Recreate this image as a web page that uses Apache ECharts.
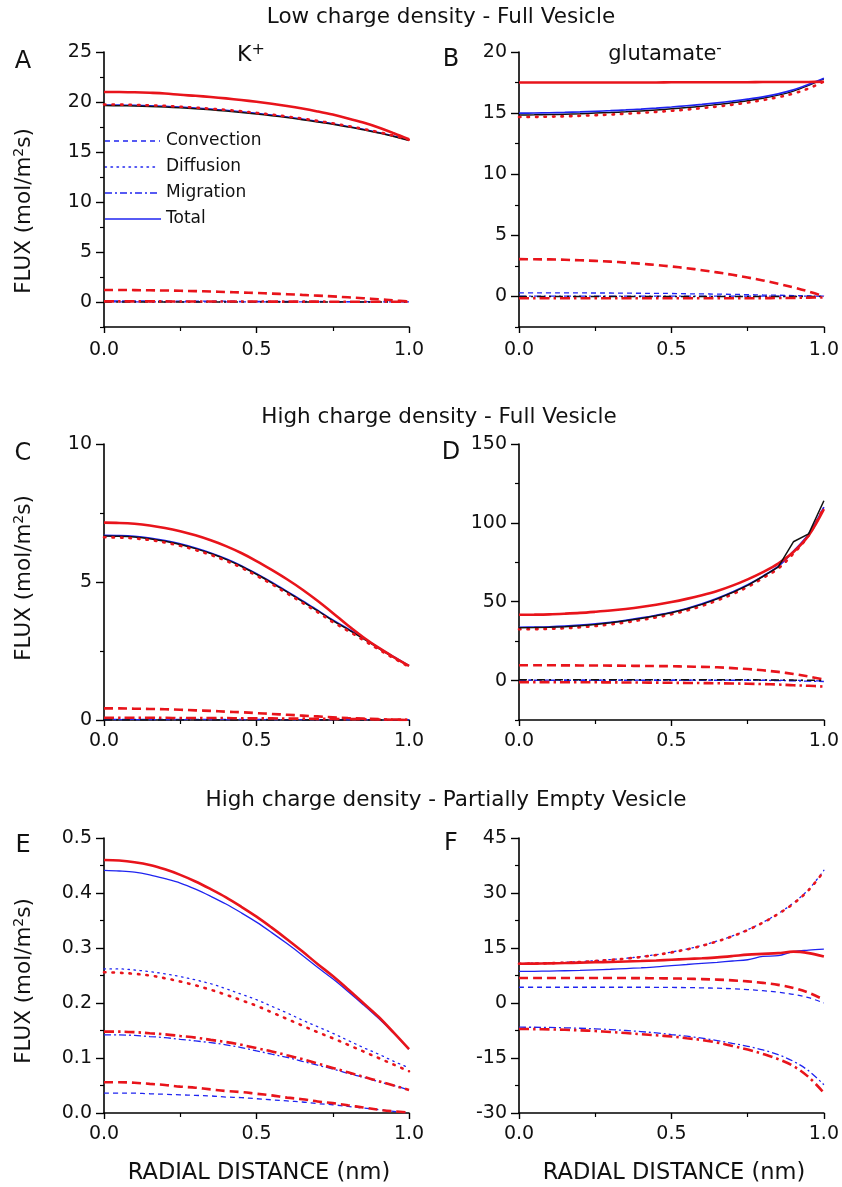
<!DOCTYPE html>
<html>
<head>
<meta charset="utf-8">
<script src="https://cdn.jsdelivr.net/npm/echarts@6/dist/echarts.min.js"></script>
<style>html,body{margin:0;padding:0;background:#fff}#c{width:842px;height:1187px}</style>
</head>
<body>
<div id="c"></div>
<script>
// ---- x positions (radial distance, nm)
const radial = [0,0.05,0.1,0.15,0.2,0.25,0.3,0.35,0.4,0.45,0.5,0.55,0.6,0.65,0.7,0.75,0.8,0.85,0.9,0.95,1.0];

// ---- Panel A: K+, low charge density, full vesicle
const A_rTot  = [21.0,21.0,20.97,20.92,20.85,20.72,20.62,20.5,20.36,20.2,20.02,19.82,19.6,19.35,19.06,18.74,18.36,17.94,17.45,16.88,16.27];
const A_rConv = [1.2,1.2,1.19,1.17,1.15,1.12,1.09,1.05,1.0,0.95,0.9,0.84,0.78,0.71,0.64,0.56,0.47,0.38,0.28,0.16,0.05];
const A_rDiff = [19.75,19.74,19.71,19.67,19.61,19.53,19.44,19.33,19.21,19.07,18.91,18.74,18.55,18.34,18.11,17.87,17.6,17.31,16.99,16.63,16.23];
const A_rMig  = [0.06,0.06,0.06,0.06,0.06,0.05,0.05,0.05,0.05,0.05,0.05,0.04,0.04,0.04,0.04,0.03,0.03,0.03,0.02,0.02,0.02];
const A_bTot  = [19.72,19.71,19.68,19.64,19.58,19.5,19.41,19.3,19.18,19.04,18.88,18.71,18.52,18.31,18.08,17.84,17.57,17.28,16.96,16.6,16.2];
const A_bConv = [0.1,0.1,0.1,0.1,0.09,0.09,0.09,0.08,0.08,0.07,0.07,0.06,0.06,0.05,0.05,0.04,0.03,0.03,0.02,0.01,0.0];
const A_bMig  = [0.02,0.02,0.02,0.02,0.02,0.02,0.02,0.02,0.02,0.02,0.02,0.02,0.02,0.02,0.02,0.02,0.02,0.01,0.01,0.01,0.01];
const A_kTot  = [19.64,19.63,19.6,19.56,19.5,19.42,19.33,19.22,19.1,18.96,18.8,18.63,18.44,18.23,18.0,17.77,17.51,17.23,16.91,16.56,16.15];
const A_kMig  = [0.0,0.0,0.0,0.0,0.0,0.0,0.0,0.0,0.0,0.0,0.0,0.0,0.0,0.0,0.0,0.0,0.0,0.0,0.0,0.0,0.0];

// ---- Panel B: glutamate-, low charge density, full vesicle
const B_rTot  = [17.5,17.5,17.5,17.5,17.5,17.5,17.5,17.51,17.51,17.51,17.52,17.52,17.52,17.53,17.53,17.53,17.54,17.54,17.55,17.55,17.56];
const B_rConv = [3.05,3.04,3.03,3.0,2.96,2.91,2.85,2.77,2.68,2.57,2.45,2.31,2.15,1.97,1.77,1.55,1.31,1.04,0.74,0.4,0.02];
const B_rDiff = [14.68,14.69,14.71,14.74,14.78,14.83,14.88,14.95,15.02,15.1,15.19,15.29,15.41,15.54,15.69,15.86,16.06,16.3,16.6,17.02,17.58];
const B_rMig  = [-0.15,-0.15,-0.15,-0.15,-0.15,-0.15,-0.15,-0.15,-0.15,-0.15,-0.15,-0.15,-0.15,-0.15,-0.15,-0.15,-0.14,-0.13,-0.12,-0.1,-0.08];
const B_bTot  = [15.0,15.01,15.03,15.06,15.1,15.15,15.2,15.26,15.33,15.41,15.5,15.6,15.71,15.84,15.98,16.14,16.33,16.58,16.9,17.35,17.85];
const B_bConv = [0.3,0.3,0.3,0.29,0.29,0.28,0.28,0.27,0.26,0.25,0.24,0.22,0.21,0.19,0.17,0.15,0.12,0.1,0.07,0.04,0.0];
const B_bMig  = [0.03,0.03,0.03,0.03,0.03,0.03,0.03,0.03,0.03,0.03,0.03,0.03,0.03,0.03,0.03,0.03,0.03,0.03,0.03,0.03,0.03];
const B_kTot  = [14.85,14.86,14.88,14.91,14.95,15.0,15.05,15.11,15.18,15.26,15.35,15.45,15.57,15.7,15.85,16.02,16.22,16.47,16.8,17.27,17.8];
const B_kMig  = [0.0,0.0,0.0,0.0,0.0,0.0,0.0,0.0,0.0,0.0,0.0,0.0,0.0,0.0,0.0,0.0,0.0,0.0,0.0,0.0,0.0];

// ---- Panel C: K+, high charge density, full vesicle
const C_rTot  = [7.15,7.14,7.11,7.05,6.96,6.84,6.69,6.51,6.3,6.05,5.76,5.44,5.1,4.73,4.32,3.88,3.42,3.0,2.62,2.28,1.96];
const C_rConv = [0.42,0.42,0.41,0.4,0.39,0.37,0.35,0.33,0.3,0.28,0.25,0.22,0.19,0.16,0.13,0.1,0.07,0.05,0.03,0.01,0.0];
const C_rDiff = [6.62,6.61,6.58,6.52,6.43,6.31,6.16,5.98,5.77,5.52,5.23,4.92,4.59,4.25,3.91,3.55,3.23,2.9,2.56,2.24,1.93];
const C_rMig  = [0.08,0.08,0.08,0.08,0.08,0.07,0.07,0.07,0.07,0.06,0.06,0.06,0.05,0.05,0.04,0.04,0.03,0.03,0.02,0.02,0.01];
const C_bTot  = [6.69,6.68,6.65,6.59,6.5,6.38,6.23,6.05,5.84,5.59,5.3,4.99,4.66,4.32,3.98,3.62,3.3,2.97,2.62,2.29,1.97];
const C_bConv = [0.02,0.02,0.02,0.02,0.02,0.02,0.02,0.02,0.02,0.02,0.02,0.02,0.01,0.01,0.01,0.01,0.01,0.01,0.01,0.0,0.0];
const C_bMig  = [0.01,0.01,0.01,0.01,0.01,0.01,0.01,0.01,0.01,0.01,0.01,0.01,0.01,0.01,0.01,0.01,0.01,0.01,0.01,0.01,0.01];
const C_kTot  = [6.67,6.66,6.63,6.57,6.48,6.36,6.21,6.03,5.82,5.57,5.28,4.97,4.64,4.3,3.96,3.6,3.28,2.95,2.6,2.27,1.96];
const C_kMig  = [0.0,0.0,0.0,0.0,0.0,0.0,0.0,0.0,0.0,0.0,0.0,0.0,0.0,0.0,0.0,0.0,0.0,0.0,0.0,0.0,0.0];

// ---- Panel D: glutamate-, high charge density, full vesicle
const D_rTot  = [41.7,41.8,42.0,42.4,42.9,43.6,44.4,45.4,46.6,48.1,49.8,51.8,54.1,56.8,60.2,64.2,68.8,74.2,81.5,92.0,108.7];
const D_rConv = [9.75,9.75,9.7,9.65,9.6,9.55,9.5,9.4,9.3,9.2,9.1,8.9,8.7,8.4,7.9,7.3,6.5,5.5,4.2,2.6,0.6];
const D_rDiff = [32.5,32.6,32.8,33.2,33.8,34.6,35.6,36.9,38.4,40.1,42.0,44.4,47.3,50.8,54.8,59.4,65.0,71.0,80.5,92.0,110.0];
const D_rMig  = [-1.0,-1.0,-1.0,-1.05,-1.1,-1.1,-1.15,-1.2,-1.25,-1.3,-1.4,-1.5,-1.6,-1.7,-1.85,-2.0,-2.2,-2.5,-3.0,-3.3,-3.8];
const D_bTot  = [33.8,33.9,34.1,34.5,35.1,35.9,36.9,38.2,39.7,41.4,43.3,45.7,48.6,52.1,56.1,60.7,66.2,72.4,82.0,93.0,110.0];
const D_bConv = [0.3,0.3,0.3,0.3,0.3,0.3,0.3,0.3,0.3,0.3,0.3,0.3,0.3,0.3,0.3,0.3,0.25,0.2,0.1,0.0,-0.3];
const D_bMig  = [0.2,0.2,0.2,0.2,0.2,0.2,0.2,0.2,0.2,0.2,0.2,0.2,0.2,0.2,0.2,0.2,0.1,0.0,-0.2,-0.4,-0.6];
const D_kTot  = [33.5,33.6,33.8,34.2,34.8,35.6,36.6,37.9,39.4,41.1,43.0,45.4,48.3,51.8,55.8,60.4,66.0,72.0,88.0,93.0,114.0];
const D_kMig  = [0.5,0.5,0.5,0.5,0.5,0.5,0.5,0.5,0.5,0.5,0.5,0.5,0.5,0.5,0.5,0.5,0.4,0.4,0.3,0.2,0.0];

// ---- Panel E: K+, high charge density, partially empty vesicle
const E_rTot  = [0.460,0.459,0.456,0.451,0.443,0.433,0.421,0.407,0.392,0.375,0.357,0.337,0.316,0.294,0.271,0.249,0.225,0.200,0.175,0.146,0.116];
const E_rConv = [0.056,0.056,0.055,0.053,0.051,0.048,0.046,0.043,0.040,0.038,0.035,0.032,0.028,0.025,0.021,0.018,0.014,0.010,0.006,0.003,0.001];
const E_rDiff = [0.256,0.255,0.253,0.250,0.245,0.239,0.232,0.224,0.215,0.205,0.195,0.183,0.171,0.159,0.147,0.136,0.124,0.112,0.100,0.088,0.076];
const E_rMig  = [0.148,0.148,0.147,0.145,0.143,0.140,0.137,0.133,0.129,0.124,0.118,0.112,0.105,0.098,0.090,0.082,0.074,0.066,0.058,0.050,0.042];
const E_bTot  = [0.441,0.440,0.438,0.433,0.426,0.418,0.407,0.394,0.380,0.364,0.347,0.328,0.308,0.287,0.265,0.244,0.221,0.197,0.172,0.145,0.116];
const E_bConv = [0.036,0.036,0.036,0.035,0.034,0.033,0.032,0.031,0.029,0.028,0.026,0.024,0.022,0.020,0.017,0.015,0.012,0.009,0.006,0.003,0.000];
const E_bDiff = [0.262,0.262,0.260,0.257,0.253,0.248,0.242,0.235,0.226,0.216,0.206,0.194,0.182,0.169,0.157,0.145,0.132,0.119,0.107,0.094,0.082];
const E_bMig  = [0.142,0.142,0.141,0.139,0.137,0.134,0.131,0.128,0.124,0.119,0.113,0.107,0.101,0.094,0.087,0.080,0.072,0.065,0.057,0.050,0.042];

// ---- Panel F: glutamate-, high charge density, partially empty vesicle
const F_rTot  = [10.7,10.75,10.82,10.9,11.0,11.1,11.2,11.32,11.45,11.6,11.8,12.0,12.2,12.45,12.8,13.2,13.4,13.6,14.0,13.6,12.7];
const F_rConv = [6.8,6.8,6.8,6.8,6.8,6.8,6.8,6.8,6.78,6.75,6.7,6.62,6.52,6.38,6.18,5.9,5.5,4.95,4.1,2.8,0.9];
const F_rDiff = [10.7,10.75,10.85,11.0,11.2,11.45,11.75,12.1,12.55,13.1,13.8,14.6,15.6,16.8,18.2,19.9,21.9,24.3,27.1,30.8,35.9];
const F_rMig  = [-7.1,-7.12,-7.18,-7.3,-7.45,-7.65,-7.9,-8.2,-8.5,-8.8,-9.15,-9.6,-10.1,-10.8,-11.7,-12.7,-13.9,-15.3,-17.2,-20.2,-24.5];
const F_bTot  = [8.6,8.65,8.7,8.8,8.9,9.05,9.2,9.4,9.6,9.85,10.2,10.5,10.8,11.1,11.45,11.8,12.7,12.9,14.0,14.4,14.7];
const F_bConv = [4.3,4.3,4.3,4.3,4.3,4.3,4.3,4.3,4.3,4.28,4.25,4.2,4.13,4.03,3.88,3.65,3.35,2.95,2.35,1.45,0.0];
const F_bDiff = [10.8,10.85,10.95,11.1,11.3,11.55,11.85,12.2,12.65,13.2,13.9,14.7,15.7,16.9,18.3,20.0,22.0,24.4,27.3,31.0,36.2];
const F_bMig  = [-6.6,-6.62,-6.67,-6.76,-6.88,-7.04,-7.24,-7.5,-7.8,-8.15,-8.6,-9.05,-9.6,-10.25,-11.0,-11.8,-12.8,-14.1,-15.9,-18.5,-22.3];

// ---- tick labels
const xTicks = [0, 0.5, 1.0];
const yA_major = [0,5,10,15,20,25],         yA_minor = [-2.5,2.5,7.5,12.5,17.5,22.5];
const yB_major = [0,5,10,15,20],            yB_minor = [-2.5,2.5,7.5,12.5,17.5];
const yC_major = [0,5,10],                  yC_minor = [2.5,7.5];
const yD_major = [0,50,100,150],            yD_minor = [-25,25,75,125];
const yE_major = [0,0.1,0.2,0.3,0.4,0.5],   yE_minor = [0.05,0.15,0.25,0.35,0.45];
const yF_major = [-30,-15,0,15,30,45],      yF_minor = [-22.5,-7.5,7.5,22.5,37.5];

// ---- text
const rowTitles = ['Low charge density - Full Vesicle','High charge density - Full Vesicle','High charge density - Partially Empty Vesicle'];
const panelLetters = ['A','B','C','D','E','F'];
const legendNames = ['Convection','Diffusion','Migration','Total'];

const FONT = 'DejaVu Sans';
const RED = '#e8141b', BLUE = '#1f24f0', BLACK = '#111111';
const dash = {
  rConv:[9,5], rDiff:[1.5,7], rMig:[10,4,2.5,4],
  bConv:[5,4], bDiff:[1.5,4.5], bMig:[7,3,2,3], kMig:[8,4,2,4]
};

const grids = [
  {left:104, top:52,  width:305, height:275},
  {left:519, top:52,  width:305, height:275},
  {left:104, top:444, width:305, height:276},
  {left:519, top:444, width:305, height:276},
  {left:104, top:838, width:305, height:275},
  {left:519, top:838, width:305, height:275}
];
const xMargins = [14,14,12,12,12,12];
const ySpecs = [
  {min:-2.5, max:25, major:yA_major, minor:yA_minor, dec:0},
  {min:-2.5, max:20, major:yB_major, minor:yB_minor, dec:0},
  {min:0, max:10, major:yC_major, minor:yC_minor, dec:0},
  {min:-25, max:150, major:yD_major, minor:yD_minor, dec:0},
  {min:0, max:0.5, major:yE_major, minor:yE_minor, dec:1},
  {min:-30, max:45, major:yF_major, minor:yF_minor, dec:0}
];

const xAxes = grids.map((g,i)=>({
  type:'value', gridIndex:i, min:0, max:1, interval:0.5,
  axisLine:{show:true, onZero:false, lineStyle:{color:'#000', width:1.6}},
  axisTick:{show:true, length:6, lineStyle:{color:'#000', width:1.4}},
  minorTick:{show:true, splitNumber:2, length:4, lineStyle:{color:'#000', width:1.2}},
  splitLine:{show:false},
  axisLabel:{margin:xMargins[i], fontFamily:FONT, fontSize:19, color:'#111', formatter:v=>v.toFixed(1)}
}));
const yAxes = [];
ySpecs.forEach((s,i)=>{
  yAxes.push({
    type:'value', gridIndex:i, min:s.min, max:s.max, position:'left',
    axisLine:{show:true, onZero:false, lineStyle:{color:'#000', width:1.6}},
    axisTick:{show:true, length:8, customValues:s.major, lineStyle:{color:'#000', width:1.4}},
    splitLine:{show:false},
    axisLabel:{margin:12, customValues:s.major, fontFamily:FONT, fontSize:19, color:'#111',
      formatter:v=>Number(v).toFixed(s.dec)}
  });
  yAxes.push({
    type:'value', gridIndex:i, min:s.min, max:s.max, position:'left', offset:0,
    axisLine:{show:false},
    axisTick:{show:true, length:4, customValues:s.minor, lineStyle:{color:'#000', width:1.2}},
    splitLine:{show:false},
    axisLabel:{show:false}
  });
});

function line(gi, arr, color, width, type, z, smooth){
  return {
    type:'line', xAxisIndex:gi, yAxisIndex:gi*2,
    data: radial.map((x,k)=>[x, arr[k]]),
    symbol:'none', showSymbol:false, silent:true, animation:false,
    smooth: smooth === false ? false : 0.35,
    z: z,
    lineStyle:{color:color, width:width, type:type||'solid', cap: (type===dash.rDiff||type===dash.bDiff)?'round':'butt'}
  };
}
const RW = 2.6, BW = 1.3, KW = 1.5;
const series = [
  // A
  line(0,A_bConv,BLUE,BW,dash.bConv,2), line(0,A_bMig,BLUE,BW,dash.bMig,2), line(0,A_bTot,BLUE,BW,'solid',2),
  line(0,A_kTot,BLACK,KW,'solid',3), line(0,A_kMig,BLACK,KW,dash.kMig,3),
  line(0,A_rConv,RED,RW,dash.rConv,4), line(0,A_rDiff,RED,RW,dash.rDiff,4), line(0,A_rMig,RED,RW,dash.rMig,4), line(0,A_rTot,RED,RW,'solid',4),
  // B
  line(1,B_bConv,BLUE,BW,dash.bConv,2), line(1,B_bMig,BLUE,BW,dash.bMig,2),
  line(1,B_kTot,BLACK,KW,'solid',3), line(1,B_kMig,BLACK,KW,dash.kMig,3), line(1,B_bTot,BLUE,BW+0.4,'solid',3),
  line(1,B_rConv,RED,RW,dash.rConv,4), line(1,B_rDiff,RED,RW,dash.rDiff,4), line(1,B_rMig,RED,RW,dash.rMig,4), line(1,B_rTot,RED,RW,'solid',4),
  // C
  line(2,C_bConv,BLUE,BW,dash.bConv,2), line(2,C_bMig,BLUE,BW,dash.bMig,2), line(2,C_bTot,BLUE,BW+0.4,'solid',2),
  line(2,C_kTot,BLACK,KW,'solid',3), line(2,C_kMig,BLACK,KW,dash.kMig,3),
  line(2,C_rConv,RED,RW,dash.rConv,4), line(2,C_rDiff,RED,RW,dash.rDiff,4), line(2,C_rMig,RED,RW,dash.rMig,4), line(2,C_rTot,RED,RW,'solid',4),
  // D
  line(3,D_bConv,BLUE,BW,dash.bConv,2), line(3,D_bMig,BLUE,BW,dash.bMig,2), line(3,D_bTot,BLUE,BW+0.4,'solid',2),
  line(3,D_rConv,RED,RW,dash.rConv,4), line(3,D_rDiff,RED,RW,dash.rDiff,4), line(3,D_rMig,RED,RW,dash.rMig,4), line(3,D_rTot,RED,RW,'solid',4),
  line(3,D_kTot,BLACK,KW,'solid',5,false), line(3,D_kMig,BLACK,KW,dash.kMig,5),
  // E
  line(4,E_bConv,BLUE,BW,dash.bConv,2), line(4,E_bDiff,BLUE,BW,dash.bDiff,2), line(4,E_bMig,BLUE,BW,dash.bMig,2), line(4,E_bTot,BLUE,BW,'solid',2),
  line(4,E_rConv,RED,RW,dash.rConv,4), line(4,E_rDiff,RED,RW,dash.rDiff,4), line(4,E_rMig,RED,RW,dash.rMig,4), line(4,E_rTot,RED,RW,'solid',4),
  // F
  line(5,F_bConv,BLUE,BW,dash.bConv,2), line(5,F_bDiff,BLUE,BW,dash.bDiff,2), line(5,F_bMig,BLUE,BW,dash.bMig,2), line(5,F_bTot,BLUE,BW,'solid',2),
  line(5,F_rConv,RED,RW,dash.rConv,4), line(5,F_rDiff,RED,RW,dash.rDiff,4), line(5,F_rMig,RED,RW,dash.rMig,4), line(5,F_rTot,RED,RW,'solid',4)
];

// ---- text graphics
const txt = (x,y,text,size,opt)=>Object.assign({
  type:'text', x:x, y:y, silent:true,
  style:{text:text, fontFamily:FONT, fontSize:size, fill:'#111', align:'center', verticalAlign:'middle'}
}, opt||{});
const graphics = [
  txt(441,17,rowTitles[0],21.5), txt(439,417,rowTitles[1],21.5), txt(446,800,rowTitles[2],21.5),
  txt(23,62,panelLetters[0],24), txt(451,60,panelLetters[1],24),
  txt(23,454,panelLetters[2],24), txt(451,453,panelLetters[3],24),
  txt(23,846,panelLetters[4],24), txt(451,844,panelLetters[5],24),
  txt(259,1173,'RADIAL DISTANCE (nm)',22.5), txt(674,1173,'RADIAL DISTANCE (nm)',22.5)
];
[[24,211],[24,578],[24,981]].forEach(p=>{
  graphics.push({type:'text', x:p[0], y:p[1], rotation:Math.PI/2, silent:true,
    style:{text:'{a|FLUX (mol/m}{s|2}{a|s)}', align:'center', verticalAlign:'middle',
      rich:{a:{fontFamily:FONT, fontSize:21.5, fill:'#111', lineHeight:24},
            s:{fontFamily:FONT, fontSize:14, fill:'#111', verticalAlign:'top', lineHeight:24}}}});
});
graphics.push({type:'text', x:251, y:55, silent:true,
  style:{text:'{a|K}{s|+}', align:'center', verticalAlign:'middle',
    rich:{a:{fontFamily:FONT, fontSize:22, fill:'#111', lineHeight:26}, s:{fontFamily:FONT, fontSize:16, fill:'#111', verticalAlign:'top', lineHeight:26}}}});
graphics.push({type:'text', x:665, y:55, silent:true,
  style:{text:'{a|glutamate}{s|-}', align:'center', verticalAlign:'middle',
    rich:{a:{fontFamily:FONT, fontSize:21, fill:'#111', lineHeight:26}, s:{fontFamily:FONT, fontSize:15, fill:'#111', verticalAlign:'top', lineHeight:26}}}});
// legend (line-style key)
const legDash = [[5,4],[1.5,4.5],[7,3,2,3],null];
const legY = [141,167,193,219];
const legEnd = [160,157,160,161];
legendNames.forEach((n,i)=>{
  graphics.push({type:'line', silent:true, shape:{x1:105, y1:legY[i], x2:legEnd[i], y2:legY[i]},
    style:{stroke:BLUE, lineWidth:1.4, lineDash:legDash[i], lineCap: i===1?'round':'butt'}});
  graphics.push({type:'text', x:166, y:legY[i], silent:true,
    style:{text:n, fontFamily:FONT, fontSize:17, fill:'#111', align:'left', verticalAlign:'middle'}});
});

const chart = echarts.init(document.getElementById('c'), null, {renderer:'canvas'});
chart.setOption({
  animation:false,
  backgroundColor:'#ffffff',
  grid:grids, xAxis:xAxes, yAxis:yAxes, series:series, graphic:graphics
});
</script>
</body>
</html>
